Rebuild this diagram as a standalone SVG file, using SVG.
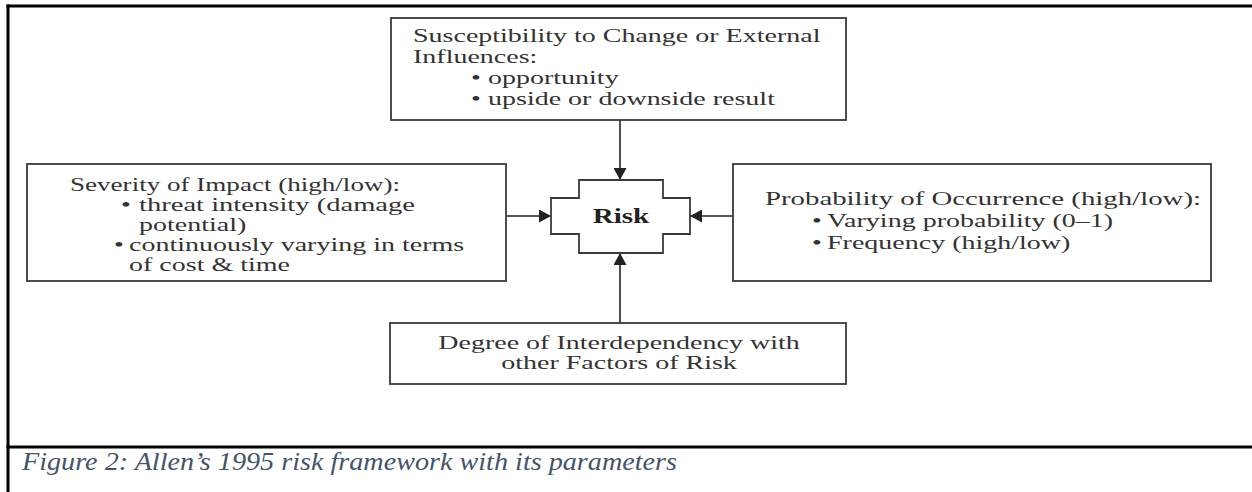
<svg xmlns="http://www.w3.org/2000/svg" width="1252" height="492" viewBox="0 0 1252 492">
<style>
.t { font-family: "Liberation Serif", "Times New Roman", serif; font-size: 19px; fill: #333; }
.b { font-family: "Liberation Serif", "Times New Roman", serif; font-size: 20px; font-weight: bold; fill: #222; }
.cap { font-family: "Liberation Serif", "Times New Roman", serif; font-size: 25px; font-style: italic; fill: #44546A; }
.box { fill: #fff; stroke: #3a3a3a; stroke-width: 1.8; }
.frame { stroke: #000; stroke-width: 3; fill: none; }
.conn { stroke: #222; stroke-width: 1.6; fill: none; marker-end: url(#ah); }
</style>
<defs>
<marker id="ah" markerUnits="userSpaceOnUse" markerWidth="13" markerHeight="13" refX="12" refY="6.5" orient="auto">
<path d="M0,0 L12,6.5 L0,13 z" fill="#222"/>
</marker>
</defs>
<rect width="1252" height="492" fill="#fff"/>
<g id="frame">
<line class="frame" x1="6.5" y1="6" x2="1252" y2="6"/>
<line class="frame" x1="8" y1="4.5" x2="8" y2="492"/>
<line class="frame" x1="6.5" y1="447" x2="1252" y2="447"/>
</g>
<g id="connectors">
<line class="conn" x1="620" y1="120" x2="620" y2="180"/>
<line class="conn" x1="620" y1="323" x2="620" y2="253"/>
<line class="conn" x1="506" y1="216" x2="551" y2="216"/>
<line class="conn" x1="733" y1="216" x2="690" y2="216"/>
</g>
<g id="susceptibility">
<rect class="box" x="391" y="18" width="455" height="102"/>
<text class="t" transform="translate(413,42) scale(1.474,1)">Susceptibility to Change or External</text>
<text class="t" transform="translate(413,63) scale(1.474,1)">Influences:</text>
<text class="t" transform="translate(471,84) scale(1.474,1)">•</text>
<text class="t" transform="translate(488,84) scale(1.474,1)">opportunity</text>
<text class="t" transform="translate(471,105) scale(1.474,1)">•</text>
<text class="t" transform="translate(488,105) scale(1.474,1)">upside or downside result</text>
</g>
<g id="severity">
<rect class="box" x="27" y="164" width="479" height="117"/>
<text class="t" x="70" y="191" textLength="330" lengthAdjust="spacingAndGlyphs">Severity of Impact (high/low):</text>
<text class="t" transform="translate(121,211) scale(1.474,1)">•</text>
<text class="t" x="139" y="211" textLength="276" lengthAdjust="spacingAndGlyphs">threat intensity (damage</text>
<text class="t" transform="translate(139,231) scale(1.474,1)">potential)</text>
<text class="t" transform="translate(114,251) scale(1.474,1)">•</text>
<text class="t" transform="translate(129,251) scale(1.474,1)">continuously varying in terms</text>
<text class="t" transform="translate(129,271) scale(1.474,1)">of cost &amp; time</text>
</g>
<g id="risk">
<path class="box" d="M579,180 L663,180 L663,198 L690,198 L690,234 L663,234 L663,253 L579,253 L579,234 L551,234 L551,198 L579,198 Z"/>
<text class="b" text-anchor="middle" transform="translate(621,223) scale(1.45,1)">Risk</text>
</g>
<g id="probability">
<rect class="box" x="733" y="164" width="478" height="117"/>
<text class="t" x="765" y="205" textLength="436" lengthAdjust="spacingAndGlyphs">Probability of Occurrence (high/low):</text>
<text class="t" transform="translate(812,227) scale(1.474,1)">•</text>
<text class="t" transform="translate(827,227) scale(1.474,1)">Varying probability (0–1)</text>
<text class="t" transform="translate(812,249) scale(1.474,1)">•</text>
<text class="t" transform="translate(827,249) scale(1.474,1)">Frequency (high/low)</text>
</g>
<g id="interdependency">
<rect class="box" x="390" y="323" width="456" height="61"/>
<text class="t" text-anchor="middle" transform="translate(619,349) scale(1.474,1)">Degree of Interdependency with</text>
<text class="t" text-anchor="middle" transform="translate(619,369) scale(1.474,1)">other Factors of Risk</text>
</g>
<g id="caption">
<text class="cap" x="22" y="470" textLength="655" lengthAdjust="spacingAndGlyphs">Figure 2: Allen’s 1995 risk framework with its parameters</text>
</g>
</svg>
